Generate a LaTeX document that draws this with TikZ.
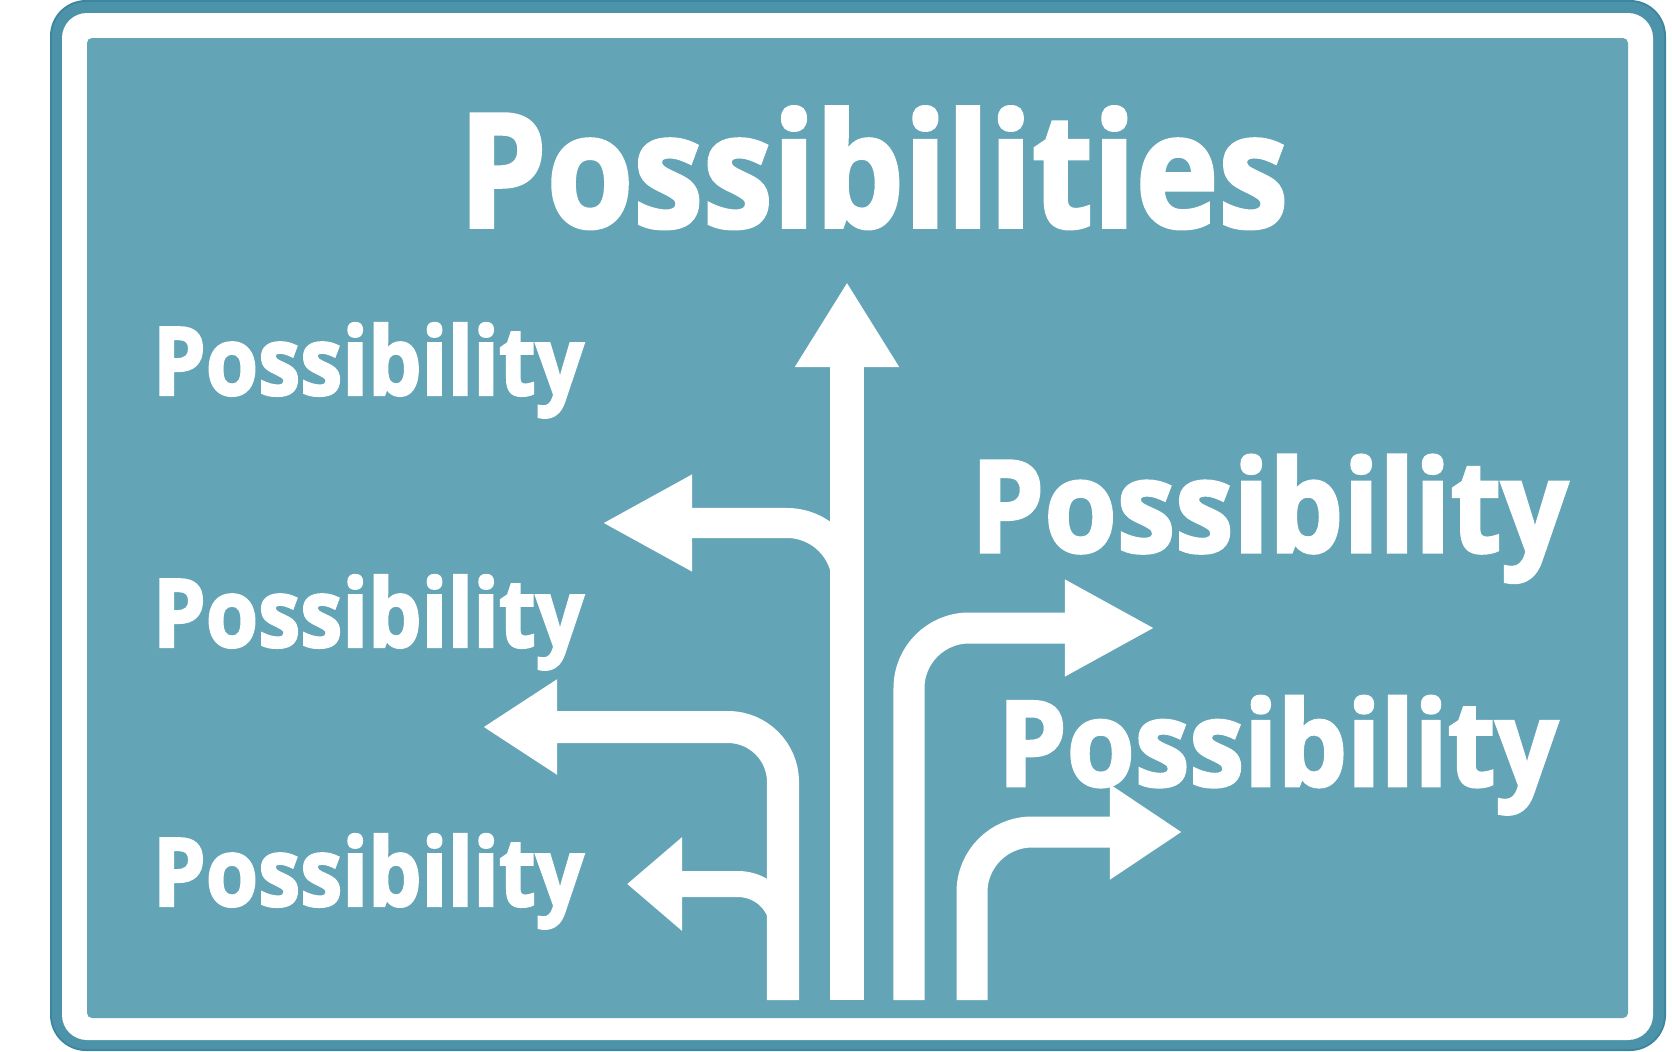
\documentclass[tikz,border=0pt]{standalone}
\usepackage{fontspec}
\usepackage{graphicx}
\usepackage{tikz}
\usetikzlibrary{arrows.meta}
\newfontfamily\signfont{Open Sans}[Kerning=Off, BoldFeatures={FakeBold=2.4}]
\definecolor{signteal}{RGB}{99,164,183}
\definecolor{signedge}{RGB}{76,147,170}
\definecolor{signrim}{RGB}{60,134,160}
\tikzset{
  signtext/.style={anchor=base west, inner sep=0pt, text=white, font=\signfont\bfseries},
  roadline/.style={draw=white, line width=0.32cm, line cap=butt, line join=miter},
  roadarrow/.style={roadline, -{Triangle[length=#1, width=0.9cm]}},
  roadarrow/.default=0.85cm,
}

\begin{document}
\begin{tikzpicture}[x=0.01cm, y=-0.01cm]
  \useasboundingbox (0,0) rectangle (1672,1051);
  \fill[white] (0,0) rectangle (1672,1051);

  % Sign plate
  \fill[signrim, rounded corners=0.36cm] (50,0) rectangle (1666,1051);
  \fill[signedge, rounded corners=0.34cm] (52,2) rectangle (1664,1049);
  \fill[white, rounded corners=0.25cm] (62,13) rectangle (1653,1040);
  \fill[signteal, rounded corners=0.05cm] (87,38) rectangle (1628,1018);

  % Heading
  \node[signtext] (title) at (458,227) {\resizebox{8.29cm}{1.2cm}{Possibilities}};

  % Left destinations
  \node[signtext] (lefttop) at (152,395) {\resizebox{4.31cm}{0.72cm}{Possibility}};
  \node[signtext] (leftmid) at (152,647) {\resizebox{4.31cm}{0.72cm}{Possibility}};
  \node[signtext] (leftlow) at (152,906) {\resizebox{4.31cm}{0.72cm}{Possibility}};

  % Right destinations
  \node[signtext] (righttop) at (970,552) {\resizebox{5.97cm}{0.97cm}{Possibility}};
  \node[signtext] (rightlow) at (997,786) {\resizebox{5.60cm}{0.90cm}{Possibility}};

  % Lanes
  \draw[roadarrow={0.74cm}, rounded corners=0.55cm] (783,1000) -- (783,727) -- (483,727);
  \draw[roadarrow={0.55cm}, line width=0.26cm, rounded corners=0.45cm] (783,960) -- (783,884) -- (627,884);
  \draw[roadarrow={0.9cm}, line width=0.3cm, rounded corners=0.6cm] (847,640) -- (847,523) -- (602,523);
  \draw[roadarrow={0.85cm}, line width=0.34cm, -{Triangle[length=0.85cm, width=0.98cm]}] (847,1000) -- (847,282);
  \draw[roadarrow={0.9cm}, line width=0.31cm, rounded corners=0.6cm] (909,1000) -- (909,628) -- (1155,628);
  \draw[roadarrow={0.72cm}, line width=0.31cm, rounded corners=0.6cm] (972,1000) -- (972,832) -- (1182,832);
\end{tikzpicture}
\end{document}
